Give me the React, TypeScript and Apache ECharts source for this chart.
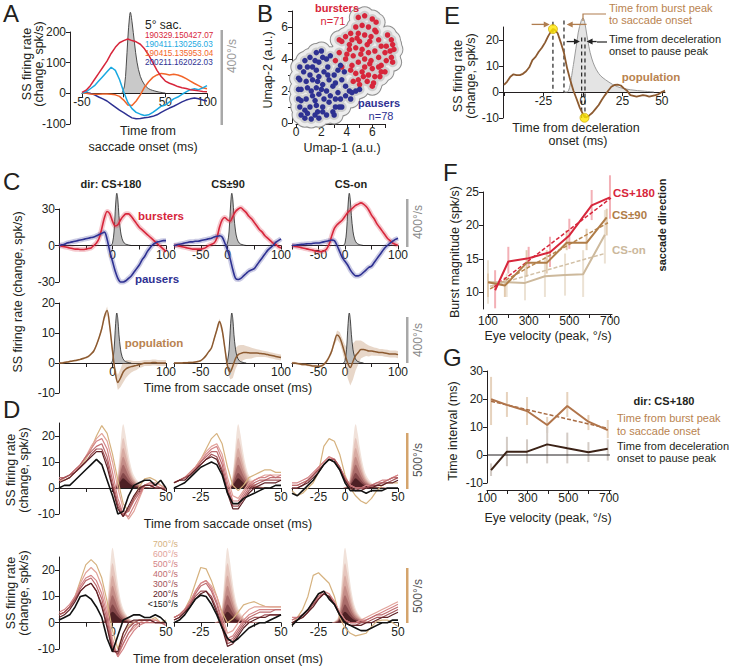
import React, { useEffect, useRef } from "react";
import * as echarts from "echarts";

const FONT = "'Liberation Sans', Arial, Helvetica, sans-serif";
const INK = "#231f20";
const RED = "#d7263b";
const BLUE = "#2e3192";
const BROWN = "#8c5a30";
const BROWN_TXT = "#b9834f";

// ---------- Panel A ----------
const aTime = [-50,-45,-40,-35,-30,-25,-20,-15,-10,-5,0,5,10,15,20,25,30,35,40,45,50,55,60,65,70,75,80,85,90,95,100];
const aRed = [3,10,25,45,65,85,105,130,150,165,172,177,172,168,160,145,125,100,75,55,40,33,28,22,18,16,12,10,8,6,5];
const aCyan = [0,5,15,25,40,55,70,85,75,45,5,-30,-50,-62,-68,-72,-70,-62,-52,-42,-38,-28,-18,-12,-3,5,12,15,12,18,25];
const aOrange = [0,0,-2,-3,-3,-2,-2,-3,-5,-10,-22,-38,-40,-25,-5,20,38,52,60,65,63,60,62,60,55,48,40,32,25,18,15];
const aBlue = [0,2,0,-5,-12,-18,-25,-35,-45,-55,-63,-72,-80,-83,-82,-80,-78,-75,-70,-62,-55,-48,-42,-35,-28,-22,-18,-15,-18,-22,-25];
const aVelT = [-2,1,3,5,7,8,10,13,16,20,25,30,40,50];
const aVel = [0,30,110,230,320,340,300,210,130,70,35,18,6,0];
const aIds = ["190329.150427.07","190411.130256.03","190415.135953.04","200211.162022.03"];
const aColors = ["#d7263b","#1ba9e1","#f2652a","#2e3192"];

// ---------- Panel B ----------
const bBursters = [
[4.9,6.6],[5.4,6.7],[6.0,6.5],[6.3,6.3],[5.2,6.1],[5.7,6.0],[6.2,5.8],[4.7,6.0],[4.3,5.6],[3.9,5.4],
[4.9,5.6],[5.4,5.5],[5.9,5.4],[6.3,5.7],[4.4,5.2],[5.0,5.1],[5.8,5.1],[3.6,5.1],[3.4,5.2],[4.2,4.9],
[7.2,5.5],[7.5,5.2],[7.6,4.9],[7.1,4.8],[7.4,4.5],[7.0,4.4],[7.7,4.6],[7.5,4.1],[7.1,3.9],[6.7,3.6],[7.6,3.8],
[4.2,4.6],[4.7,4.7],[5.2,4.6],[3.4,4.4],[4.0,4.3],[4.5,4.2],[5.1,4.3],[5.7,4.4],[6.2,4.5],[5.4,4.0],
[5.9,3.9],[6.5,4.1],[4.9,3.8],[4.4,3.6],[5.4,3.5],[6.0,3.4],[6.5,3.5],[5.2,3.2],[5.7,3.0],[6.2,2.9],
[4.7,3.1],[4.3,3.3],[4.9,2.7],[5.6,2.6],[6.1,2.5],[6.6,2.9],[6.7,3.2],[5.3,2.9],[4.5,2.6],[3.9,4.0],
[3.1,3.9],[3.6,3.5],
[4.8,5.3],[5.6,4.9],[6.7,4.8],[6.5,5.2],[7.0,3.2],[6.0,2.3],[5.0,2.4],[5.8,3.7]
];
const bPausers = [
[1.1,4.1],[1.6,4.4],[2.0,4.5],[1.5,3.9],[0.9,3.5],[1.8,3.8],[2.1,4.1],[0.6,3.2],[1.1,3.0],[1.6,3.3],
[0.3,2.7],[0.8,2.6],[1.3,2.7],[1.8,2.9],[2.4,4.0],[2.7,4.2],[2.5,3.5],
[0.4,2.1],[0.9,2.2],[1.6,2.2],[2.1,2.4],[2.6,2.7],[3.0,3.0],[3.3,3.3],[3.5,3.6],[3.8,3.2],[2.9,2.3],
[2.4,2.0],[1.8,1.8],[1.3,1.7],[0.8,1.5],[0.4,1.4],[3.1,2.5],[3.6,2.7],[3.3,1.9],[2.7,1.7],[2.2,1.5],
[3.9,2.3],[4.2,2.0],[4.4,1.9],
[0.3,1.0],[0.7,0.8],[1.1,1.0],[1.6,1.1],[2.1,1.0],[2.6,1.3],[3.1,1.5],[3.5,1.5],[3.9,1.7],[4.3,1.5],
[4.7,2.0],[5.0,2.1],[0.4,0.5],[0.9,0.6],[1.5,0.5],[1.8,0.3],[2.4,0.5],[2.9,0.7],[3.4,1.0],[0.7,0.3],
[1.2,0.25],[1.7,0.7],[0.2,1.5],[0.2,2.1],[0.2,2.8],[0.3,3.5],[3.1,1.0],[3.6,1.0],
[1.3,3.5],[2.2,3.2],[0.7,3.9],[1.7,2.6],[2.5,3.0],[2.0,2.1],[1.5,1.4],[3.0,0.5],[2.1,0.7],[1.2,2.0]
];

// ---------- Panel C ----------
const cTime = [-100,-95,-90,-85,-80,-75,-70,-65,-60,-55,-50,-45,-40,-35,-30,-25,-20,-15,-10,-5,0,5,10,15,20,25,30,35,40,45,50,55,60,65,70,75,80,85,90,95,100];
const c180Burst = [0,-0.5,-1,-1.5,-2,-2.5,-3,-3,-3.3,-3.3,-3,-2.5,-2,0,2,6,14,23,28,26,20,16,17,21,24,26,26,24,21,18,15,13,11,9,7,5,3,1,-1,-3,-5];
const c180Pause = [0,0.5,1,2,2.5,3,3.5,4,4.5,5,5.5,6,6.5,7,8,9,10,11,5,-5,-13,-21,-27,-30,-30,-29,-27,-25,-22,-19,-16,-12,-9,-5,-2,0.5,2,3,3.5,4,4];
const c90Burst = [0,0,-0.5,-1,-1.5,-2,-2.5,-3,-3,-3,-3,-2.5,-1.5,0,1,2,6,15,21,23,21,20,24,28,30,31,29,27,24,22,19,16,13,11,8,6,4,2,1,-1,-2];
const c90Pause = [0,0.5,1,1.5,2,2.5,3,3,3.5,3.5,4,4.5,5,5.5,6,7,7.5,8,7,2,-4,-11,-20,-27,-28,-27,-25,-23,-21,-20,-19,-16,-13,-10,-7,-4,-2,0,2.5,4,5.5];
const cOnBurst = [0,-0.5,-1,-1.5,-2,-2.5,-3,-3.5,-4,-4.5,-5,-5,-4.5,-3,1,8,14,17,19,21,24,27,29,31,33,34,35,34,32,29,25,22,18,15,12,9,6,4,2,1,0];
const cOnPause = [0,0.2,0.5,0.8,1,1.2,1.5,1.5,1.8,2,2,2.5,3,3.5,4,4.5,4,0,-5,-10,-13,-16,-20,-23,-25,-25,-24,-22,-20,-18,-17,-14,-11,-8,-5,-2,0,2,3.5,5,6];
const c180Pop = [0,0,0.2,0.3,0.5,0.7,0.8,1,1.2,1.5,1.8,2.2,3,4,6,8.5,11.5,15.5,17.5,12,4,-3,-6.5,-5,-3,-2,-1.5,-1.2,-1,-0.8,-0.5,-0.3,0,0,0,0.2,0.2,0,0,0,0];
const c180PopSem = [0.3,0.3,0.3,0.3,0.3,0.3,0.3,0.3,0.3,0.3,0.3,0.4,0.4,0.5,0.5,0.6,0.8,1,1.3,1.3,1.2,1.5,2.5,3,3.5,3,2.5,2,1.7,1.5,1.2,1.1,1,1,1,1,1,1,1,1,1];
const c90Pop = [0,0,0,0,0.1,0.1,0.2,0.2,0.3,0.5,0.8,1.5,2.5,3.8,5,8,11,13.8,11,5,-1,-3,-1,1.5,2.8,3.2,3.5,3.5,3.4,3.3,3.3,3.3,3.2,3.1,3,2.8,2.6,2.4,2.2,2,1.8];
const c90PopSem = [0.3,0.3,0.3,0.3,0.3,0.3,0.3,0.3,0.3,0.3,0.3,0.3,0.4,0.4,0.5,0.6,0.7,1,1,1.2,1.5,2.5,4,3.5,3,2.8,2.5,2.2,2,1.8,1.5,1.3,1.2,1.1,1,1,1,1,1,1,1];
const cOnPop = [0,0,-0.2,-0.3,-0.5,-0.5,-0.7,-0.8,-1,-1,-1.1,-1,-0.5,0.5,2,4,7,9.3,8.5,6,3,0,-1.5,0.5,2.5,3.5,4.5,4.5,4.3,4,4,3.8,3.7,3.5,3.5,3.3,3.2,3,3,3,2.8];
const cOnPopSem = [0.4,0.4,0.4,0.4,0.4,0.4,0.4,0.4,0.4,0.4,0.4,0.5,0.5,0.6,0.7,0.9,1,1.5,1.8,2.2,3,5,6,6,5,4,3,2.5,2,1.8,1.5,1.4,1.3,1.2,1.2,1.2,1.2,1.2,1.2,1.2,1.2];
const cVelT = [-3,0,3,5,7,8,10,12,15,18,22,27,35];
const cVel = [0,20,120,280,410,435,380,250,120,55,20,8,0];
const cTitles = ["dir: CS+180","CS±90","CS-on"];

// ---------- Panel D ----------
const dTime = [-50,-45,-40,-35,-30,-25,-20,-15,-10,-5,0,5,10,15,20,25,30,35,40,45,50];
const dBins = ["700°/s","600°/s","500°/s","400°/s","300°/s","200°/s","<150°/s"];
const dSac180 = [
[3,3,4,6,8,11,15,20,24,21,13,3,-6,-9,-4,0.5,3.5,4,3,1,0],
[3,3,4,6,9,12,16,19,21,18,10,0,-8,-12,-9,-4,1,2,2,1,0],
[3,4,5,7,9,12,15,18,19,15,6,-4,-10,-11,-7,-3,1,2,1,0,0],
[4,4,5,7,9,12,14,16,17,12,3,-6,-10,-9,-5,-2,1,1,1,0,0],
[3,4,5,6,8,10,13,15,15,10,1,-7,-11,-8,-4,-1,1,1,0,0,-1],
[2,3,4,6,8,10,12,14,14,8,0,-8,-11,-7,-3,0,1,1,0,0,-1],
[0,1,1,3,5,7,9,11,9,3,-3,-10,-9,-3,1,2,3,3,1,3,0]
];
const dSac90 = [
[2,3,4,6,8,11,15,19,21,17,8,1,-1,1,4,5,6,7,7,6,6],
[2,3,4,6,8,11,14,16,17,13,4,-3,-4,-1,2,3,4,5,5,5,5],
[2,3,4,6,8,10,13,15,16,11,2,-5,-5,-2,1,3,4,4,5,4,5],
[2,3,4,5,7,10,12,14,14,9,0,-6,-6,-3,0,2,3,3,4,4,4],
[2,3,4,5,7,9,11,13,12,7,-1,-7,-7,-4,-1,1,2,3,3,3,3],
[2,3,3,5,7,9,11,12,11,6,-2,-8,-8,-5,-2,0,1,2,2,2,3],
[0,1,2,4,6,8,9,10,9,5,-2,-6,-6,-4,-3,-2,-1,0,0,1,1]
];
const dSacOn = [
[-1,-3,-2,0,2,6,16,19,18,13,5,0,-3,-5,-6,-4,-1,1,2,2,2],
[1,1,2,3,5,8,10,12,11,8,4,1,0,0,0,1,1,2,3,4,5],
[2,2,3,4,6,8,10,12,11,8,4,1,0,0,1,1,2,3,3,4,5],
[1,1,2,3,5,7,9,11,11,8,4,1,0,0,0,1,2,2,3,4,4],
[0,0,1,3,5,7,9,11,11,8,3,0,-1,0,0,1,1,2,2,3,4],
[0,0,1,2,4,6,9,11,10,7,3,0,-1,-1,0,0,1,1,2,2,3],
[-2,-3,-1,1,3,6,9,11,10,7,2,-1,-1,-1,-2,-1,-1,-1,0,0,0]
];
const dDec180 = [
[3,4,6,10,16,22,24,22,17,8,-3,-10,-4,-1,0,1,1,1,2,0,1],
[3,4,6,10,15,19,21,19,14,5,-6,-13,-8,-4,-2,0,1,1,1,0,0],
[4,5,7,10,14,17,18,16,11,3,-8,-13,-10,-6,-3,-1,0,1,1,0,0],
[3,4,6,9,13,16,17,14,9,1,-9,-12,-8,-4,-1,0,0,0,0,0,-1],
[3,4,6,9,12,14,15,12,7,-1,-10,-12,-6,-2,0,1,1,1,0,0,0],
[2,3,5,8,12,14,15,12,6,-2,-11,-11,-4,0,1,1,1,1,0,0,0],
[1,2,3,6,10,10.5,9,6,2,-6,-11,-5,1,2,3,3,2,2,3,2,0]
];
const dDec90 = [
[2,3,5,9,15,21,20.5,16,10,4,0,1.5,4,6.8,7.5,8,7,6.2,6,6,6],
[2,3,5,8,12,15,16,14,10,3,-4,-3,0,3,5,6,6,6,6,6,6],
[2,3,5,8,12,15,16,13,8,1,-6,-5,-2,1,3,4,5,5,5,5,5],
[2,3,5,7,11,14,15,12,7,0,-7,-6,-3,0,2,3,4,4,4,5,5],
[1,2,4,7,10,12,12,10,5,-1,-8,-7,-4,-1,1,2,2,3,3,3,3],
[1,2,4,6,9,11,12,9,4,-2,-9,-8,-5,-2,0,1,2,2,3,3,3],
[0,1,3,6,9,10.5,10,7,3,-2,-6,-7.5,-6,-4,-2,-1,0,0,1,2,3]
];
const dDecOn = [
[-1,2,5,10,18,19,17,15,10,2,-2,-4,-5,-4.5,-4,-1.5,0.5,1,1,0,-1.4],
[1,2,3,5,8,11,12,11,8,4,1,0,0,1,2,3,4,5,6,7,8],
[2,2,3,5,8,10,12,11,8,4,1,0,0,1,1,2,3,4,5,6,7],
[1,2,3,5,7,10,11,10,7,3,1,0,0,0,1,2,3,3,4,5,6],
[0,1,2,4,7,9,11,10,7,3,0,-1,-1,0,0,1,2,2,3,4,5],
[0,1,2,4,6,9,11,10,7,3,0,-1,-1,-1,0,0,1,2,2,3,4],
[-1,1,3,5,8,11,12,9,7,3,0,-1,-2,-3,-3,-2,-1,0,0,1,1]
];
const dVelTSac = [-2,3,5,7,9,10,12,14,17,20,25,30,40];
const dVelSac = [
[0,30,140,330,520,550,470,350,200,110,45,15,0],
[0,25,110,260,405,430,370,275,155,85,35,12,0],
[0,20,90,210,325,345,295,220,125,70,28,10,0],
[0,15,70,160,255,270,230,170,100,55,22,8,0],
[0,10,50,120,190,200,170,125,72,40,16,6,0],
[0,7,33,78,123,130,110,82,47,26,10,4,0],
[0,5,22,51,80,85,72,54,31,17,7,2,0]
];
const dVelTDec = [-12,-7,-5,-3,-1,0,2,4,7,10,15,20,30];
const dVelDec = [
[0,40,170,400,640,680,580,430,240,130,50,15,0],
[0,32,135,320,510,540,460,340,190,105,40,12,0],
[0,25,108,255,405,430,365,270,150,83,32,10,0],
[0,20,85,198,315,335,285,210,118,65,25,8,0],
[0,15,63,148,235,250,212,157,88,48,18,6,0],
[0,10,42,98,155,165,140,104,58,32,12,4,0],
[0,6,25,60,94,100,85,63,35,19,7,2,0]
];
const dLineColors = ["#d6b27f","#e2a39a","#d48487","#bf6c70","#a35358","#5e2126","#111111"];
const dFillColors = ["#f1e2da","#e6c6bd","#d8aba2","#c48d87","#a96b69","#85484a","#4e2024"];

// ---------- Panel E ----------
const eTime = [-50,-48,-46,-44,-42,-40,-38,-36,-34,-32,-30,-28,-26,-24,-22,-20,-19,-18,-16,-14,-12,-10,-8,-6,-4,-2,0,1,2,4,6,8,10,12,14,16,18,20,22,24,26,28,30,32,34,36,38,40,42,44,46,48,50,52];
const eRate = [2.7,4,5.9,6.8,6.5,6.5,7,8,9.5,12.3,13.5,15.5,17,19,21.5,23.5,24.2,24,22.6,19,15,9.1,4.5,0.5,-2.7,-6,-8.5,-9.6,-9.8,-9,-8,-6.5,-5,-3,-1.2,0.5,2,2.7,2.8,2.5,1.4,0.5,-1.2,-1.5,-1.8,-1.5,-1.2,-1.4,-1.8,-1.5,-1.2,-0.8,0,0.5];
const eVelT = [-12,-10,-6,-3,-1,0,1,2.5,5.5,10,16,22,30,39,45];
const eVel = [0,0,37,80,97,100,96,77,46,25,14,7,3,1,0];
const eDashT = [-19,-12,-0.8,1.3];
const eDashTop = [27,27.5,21,21];
const eDashBottom = [0,0,-10,-10];
const ePeaks = [[-19,24.2],[1,-9.9]];
const eBrownArrows = [[-32.5,-21,26],[2.3,-10.3,26]];
const eBlackArrows = [[-10.3,-1.9,19.4],[8.7,2.3,19.4]];

// ---------- Panel F ----------
const fX180 = [135,200,300,405,500,610,700];
const fY180 = [10.3,14.6,15.1,16.0,18.5,23.0,24.2];
const fLo180 = [7.6,12.8,13.8,13.8,16.5,20.8,21.0];
const fHi180 = [13.3,16.8,16.8,18.3,21.0,25.3,27.5];
const fX90 = [100,183,290,389,487,585,684];
const fY90 = [11.5,11.0,14.4,14.4,17.4,17.4,21.2];
const fLo90 = [9.3,9.3,12.3,12.8,16.3,16.3,18.5];
const fHi90 = [12.8,12.3,16.3,16.3,19.3,19.5,22.5];
const fXOn = [100,192,282,380,479,568,675];
const fYOn = [11.5,11.5,11.4,12.4,12.6,12.7,18.6];
const fLoOn = [8.3,9.3,8.8,9.3,9.5,9.3,14.3];
const fHiOn = [14.8,12.8,13.8,15.3,15.8,16.3,22.3];
const fFit180 = [[130,10.8],[705,24.1]];
const fFit90 = [[110,10.5],[690,20.4]];
const fFitOn = [[110,10.9],[675,15.8]];

// ---------- Panel G ----------
const gX = [120,198,297,396,495,599,694];
const gBurst = [19.9,17.9,15.7,10.7,17.5,11.9,8.9];
const gBurstLo = [10.7,13.6,10.7,7.9,13.6,8.9,6.0];
const gBurstHi = [27.9,22.5,20.7,13.6,22.5,14.3,12.5];
const gPause = [-5.4,1.2,1.2,3.8,2.4,1.0,2.2];
const gPauseLo = [-7.5,-4,-3,-3,-3,-2.5,-2];
const gPauseHi = [-3,6.5,5.6,10,8,4.6,5.6];
const gFit = [[120,19.2],[694,9.5]];

const zip = (xs: number[], ys: number[]) => xs.map((x, i) => [x, ys[i]]);

function buildOption() {
  const grid: any[] = [];
  const xAxis: any[] = [];
  const yAxis: any[] = [];
  const series: any[] = [];
  const graphic: any[] = [];

  const lineSt = { color: INK, width: 1 };
  const lbl = { color: INK, fontSize: 12, fontFamily: FONT };

  function panel(rect: any, xc: any, yc: any, vel?: number[]) {
    const gi = grid.length;
    grid.push({ ...rect });
    const yi = yAxis.length;
    yAxis.push({
      type: "value", gridIndex: gi, min: yc.min, max: yc.max, position: "left",
      offset: yc.offset || 0, show: yc.show !== false,
      axisLine: { show: true, onZero: false, lineStyle: lineSt },
      axisTick: { show: true, length: 4, customValues: yc.ticks, lineStyle: { color: INK } },
      axisLabel: { show: true, customValues: yc.labels, margin: 4, ...lbl },
      splitLine: { show: false },
    });
    // x axis drawn through y = 0 (shifted up from the grid's bottom edge)
    const xOffset = xc.atZero ? -rect.height * (0 - yc.min) / (yc.max - yc.min) : (xc.offset || 0);
    const xi = xAxis.length;
    xAxis.push({
      type: "value", gridIndex: gi, min: xc.min, max: xc.max, position: "bottom",
      offset: xOffset, show: xc.show !== false,
      axisLine: { show: true, onZero: false, lineStyle: lineSt },
      axisTick: { show: true, length: 4, customValues: xc.ticks, lineStyle: { color: INK } },
      axisLabel: { show: true, customValues: xc.labels, margin: xc.margin ?? 3, ...lbl },
      splitLine: { show: false },
    });
    let vi = -1;
    if (vel) {
      vi = yAxis.length;
      yAxis.push({ type: "value", gridIndex: gi, min: vel[0], max: vel[1], show: false, splitLine: { show: false } });
    }
    return { xi, yi, vi };
  }

  const line = (p: any, data: any[], color: string, width = 1.2, extra: any = {}) => ({
    type: "line", xAxisIndex: p.xi, yAxisIndex: p.yi, data, symbol: "none", showSymbol: false,
    clip: false, silent: true, lineStyle: { color, width }, ...extra,
  });
  const velFill = (p: any, data: any[], fill: string, stroke: string, width: number) => ({
    type: "line", xAxisIndex: p.xi, yAxisIndex: p.vi, data, symbol: "none", showSymbol: false,
    clip: false, silent: true, smooth: 0.35, lineStyle: { color: stroke, width },
    areaStyle: { color: fill, opacity: 1 },
  });
  const band = (p: any, xs: number[], mean: number[], sem: number[], color: string) => ({
    type: "custom", xAxisIndex: p.xi, yAxisIndex: p.yi, silent: true, clip: false,
    data: [[xs[0], mean[0]]],
    renderItem: (_params: any, api: any) => {
      const pts: any[] = [];
      for (let i = 0; i < xs.length; i++) pts.push(api.coord([xs[i], mean[i] + sem[i]]));
      for (let i = xs.length - 1; i >= 0; i--) pts.push(api.coord([xs[i], mean[i] - sem[i]]));
      return { type: "polygon", shape: { points: pts }, style: { fill: color } };
    },
  });
  const errBars = (p: any, xs: number[], lo: number[], hi: number[], color: string, w = 2) => ({
    type: "custom", xAxisIndex: p.xi, yAxisIndex: p.yi, silent: true, clip: false,
    data: xs.map((x, i) => [x, lo[i], hi[i]]),
    encode: { x: 0, y: [1, 2] },
    renderItem: (_params: any, api: any) => {
      const a = api.coord([api.value(0), api.value(1)]);
      const b = api.coord([api.value(0), api.value(2)]);
      return { type: "line", shape: { x1: a[0], y1: a[1], x2: b[0], y2: b[1] }, style: { stroke: color, lineWidth: w } };
    },
  });
  const arrows = (p: any, rows: number[][], color: string) => ({
    type: "custom", xAxisIndex: p.xi, yAxisIndex: p.yi, silent: true, clip: false, z: 5,
    data: rows, encode: { x: [0, 1], y: 2 },
    renderItem: (_params: any, api: any) => {
      const a = api.coord([api.value(0), api.value(2)]);
      const b = api.coord([api.value(1), api.value(2)]);
      const d = Math.sign(b[0] - a[0]) || 1;
      return {
        type: "group",
        children: [
          { type: "line", shape: { x1: a[0], y1: a[1], x2: b[0] - d * 4, y2: b[1] }, style: { stroke: color, lineWidth: 1.3 } },
          { type: "polygon", shape: { points: [[b[0], b[1]], [b[0] - d * 6, b[1] - 3], [b[0] - d * 6, b[1] + 3]] }, style: { fill: color } },
        ],
      };
    },
  });
  const txt = (text: string, x: number, y: number, o: any = {}) => ({
    type: "text", x, y, rotation: o.rot ? Math.PI / 2 : 0, silent: true, z: 100,
    style: {
      text, fill: o.color || INK,
      font: `${o.bold ? "bold " : ""}${o.size || 12}px ${FONT}`,
      align: o.align || "center", verticalAlign: o.va || "middle",
    },
  });
  const rect = (x: number, y: number, w: number, h: number, fill: string) => ({
    type: "rect", shape: { x, y, width: w, height: h }, style: { fill }, silent: true, z: 100,
  });

  // ---- A ----
  const pA = panel({ left: 82, top: 32, width: 125, height: 92 },
    { min: -50, max: 100, ticks: [-50, 0, 50, 100], labels: [-50, 50, 100], atZero: true },
    { min: -100, max: 200, ticks: [-100, 0, 100, 200], labels: [-100, 0, 100, 200], offset: 12 },
    [-130.5, 257]);
  series.push(velFill(pA, zip(aVelT, aVel), "#c9c9c9", "#3a3a3a", 0.9));
  series.push(line(pA, zip(aTime, aBlue), aColors[3], 1.5));
  series.push(line(pA, zip(aTime, aOrange), aColors[2], 1.5));
  series.push(line(pA, zip(aTime, aCyan), aColors[1], 1.5));
  series.push(line(pA, zip(aTime, aRed), aColors[0], 1.5));

  // ---- B ----
  const pB = panel({ left: 296, top: 11, width: 89, height: 112 },
    { min: 0, max: 7, ticks: [0, 1, 2, 3, 4, 5, 6, 7], labels: [0, 2, 4, 6], offset: 1, margin: 2 },
    { min: 0, max: 7, ticks: [0, 1, 2, 3, 4, 5, 6, 7], labels: [0, 2, 4, 6], offset: 4 });
  const allB = [...bBursters, ...bPausers];
  const sc = (data: any[], size: number, color: string, z: number) => ({
    type: "scatter", xAxisIndex: pB.xi, yAxisIndex: pB.yi, data, symbolSize: size, clip: false, silent: true, z,
    itemStyle: { color, opacity: 1 },
  });
  series.push(sc(allB, 19, "#8f8f8f", 1));
  series.push(sc(allB, 17, "#eeeeee", 1));
  series.push(sc(allB, 10, "#cfcfcf", 1));
  series.push(sc(bBursters, 5.5, RED, 3));
  series.push(sc(bPausers, 5.5, BLUE, 3));

  // ---- C ----
  const cx = [59, 174, 292];
  const cw = [107, 107, 106];
  const cBurst = [c180Burst, c90Burst, cOnBurst];
  const cPause = [c180Pause, c90Pause, cOnPause];
  const cPop = [c180Pop, c90Pop, cOnPop];
  const cSem = [c180PopSem, c90PopSem, cOnPopSem];
  for (let i = 0; i < 3; i++) {
    const pt = panel({ left: cx[i], top: 209, width: cw[i], height: 73 },
      { min: -100, max: 100, ticks: [-100, -50, 0, 50, 100], labels: i === 0 ? [0, 100] : [-50, 0, 100], atZero: true },
      { min: -30, max: 30, ticks: [-30, 0, 30], labels: [-30, 0, 30], show: i === 0 },
      [-304, 304]);
    series.push(velFill(pt, zip(cVelT, cVel), "#bdbdbd", "#222", 0.8));
    series.push(line(pt, zip(cTime, cBurst[i]), "rgba(215,38,59,0.25)", 5, { smooth: 0.3 }));
    series.push(line(pt, zip(cTime, cPause[i]), "rgba(46,49,146,0.25)", 5, { smooth: 0.3 }));
    series.push(line(pt, zip(cTime, cBurst[i]), RED, 1.6, { smooth: 0.3 }));
    series.push(line(pt, zip(cTime, cPause[i]), BLUE, 1.6, { smooth: 0.3 }));

    const pb = panel({ left: cx[i], top: 303, width: cw[i], height: 90 },
      { min: -100, max: 100, ticks: [-100, -50, 0, 50, 100], labels: i === 0 ? [0, 100] : [-50, 0, 100], atZero: true },
      { min: -10, max: 20, ticks: [-10, 0, 10, 20], labels: [-10, 0, 10, 20], show: i === 0 },
      [-261, 522]);
    series.push(velFill(pb, zip(cVelT, cVel), "#bdbdbd", "#222", 0.8));
    series.push(band(pb, cTime, cPop[i], cSem[i], "rgba(190,140,100,0.35)"));
    series.push(line(pb, zip(cTime, cPop[i]), BROWN, 1.5, { smooth: 0.3 }));
  }

  // ---- D ----
  const dTop = [dSac180, dSac90, dSacOn];
  const dBot = [dDec180, dDec90, dDecOn];
  const dTopLabels = [[50], [-25, 50], [-25, 0, 50]];
  const dBotLabels = [[0, 50], [-25, 50], [-25, 0, 50]];
  for (let i = 0; i < 3; i++) {
    const pt = panel({ left: cx[i], top: 423, width: cw[i], height: 91 },
      { min: -50, max: 50, ticks: [-50, -25, 0, 25, 50], labels: dTopLabels[i], atZero: true },
      { min: -10, max: 25, ticks: [-10, 0, 10, 20], labels: [-10, 0, 10, 20], show: i === 0 },
      [-224, 560]);
    for (let k = 0; k < 7; k++) series.push(velFill(pt, zip(dVelTSac, dVelSac[k]), dFillColors[k], dFillColors[k], 0));
    for (let k = 0; k < 7; k++) series.push(line(pt, zip(dTime, dTop[i][k]), dLineColors[k], k === 6 ? 1.6 : 1.2));

    const pb = panel({ left: cx[i], top: 557, width: cw[i], height: 92 },
      { min: -50, max: 50, ticks: [-50, -25, 0, 25, 50], labels: dBotLabels[i], atZero: true },
      { min: -10, max: 25, ticks: [-10, 0, 10, 20], labels: [-10, 0, 10, 20], show: i === 0 },
      [-239, 597]);
    for (let k = 0; k < 7; k++) series.push(velFill(pb, zip(dVelTDec, dVelDec[k]), dFillColors[k], dFillColors[k], 0));
    for (let k = 0; k < 7; k++) series.push(line(pb, zip(dTime, dBot[i][k]), dLineColors[k], k === 6 ? 1.6 : 1.2));
  }

  // ---- E ----
  const pE = panel({ left: 504, top: 27, width: 161, height: 91 },
    { min: -50, max: 52, ticks: [-50, -25, 0, 25, 50], labels: [-25, 0, 25, 50], atZero: true },
    { min: -10, max: 25, ticks: [-10, 0, 10, 20], labels: [-10, 0, 10, 20], offset: 1 },
    [-35.3, 88]);
  series.push(velFill(pE, zip(eVelT, eVel), "#e4e4e4", "#9a9a9a", 1));
  for (let k = 0; k < eDashT.length; k++) {
    series.push(line(pE, [[eDashT[k], eDashTop[k]], [eDashT[k], eDashBottom[k]]], "#222", 1.2, { lineStyle: { color: "#222", width: 1.2, type: [4, 3] } }));
  }
  series.push(line(pE, zip(eTime, eRate), BROWN, 1.8));
  series.push({
    type: "scatter", xAxisIndex: pE.xi, yAxisIndex: pE.yi, data: ePeaks, symbolSize: 9, silent: true, clip: false, z: 6,
    itemStyle: { color: "#ffe600", borderColor: "#c4a000", borderWidth: 0.8 },
  });
  series.push(arrows(pE, eBrownArrows, "#b07d4f"));
  series.push(arrows(pE, eBlackArrows, "#222"));

  // ---- F ----
  const pF = panel({ left: 488, top: 192, width: 124, height: 117 },
    { min: 100, max: 710, ticks: [100, 200, 300, 400, 500, 600, 700], labels: [100, 300, 500, 700], offset: 5, margin: 1 },
    { min: 7.5, max: 25, ticks: [10, 15, 20, 25], labels: [10, 15, 20, 25], offset: 5 });
  series.push(errBars(pF, fXOn, fLoOn, fHiOn, "#ece2d4"));
  series.push(errBars(pF, fX90, fLo90, fHi90, "#e2cbb0"));
  series.push(errBars(pF, fX180, fLo180, fHi180, "#f3b0b6"));
  series.push(line(pF, fFitOn, "#d2c0a6", 1.5, { lineStyle: { color: "#d2c0a6", width: 1.5, type: [4, 2] } }));
  series.push(line(pF, fFit90, "#b9874f", 1.5, { lineStyle: { color: "#b9874f", width: 1.5, type: [4, 2] } }));
  series.push(line(pF, fFit180, RED, 1.5, { lineStyle: { color: RED, width: 1.5, type: [4, 2] } }));
  series.push(line(pF, zip(fXOn, fYOn), "#cdb99c", 2));
  series.push(line(pF, zip(fX90, fY90), "#b07d48", 2));
  series.push(line(pF, zip(fX180, fY180), RED, 2));

  // ---- G ----
  const pG = panel({ left: 487, top: 371, width: 124, height: 112 },
    { min: 100, max: 710, ticks: [100, 200, 300, 400, 500, 600, 700], labels: [100, 300, 500, 700], offset: 7, margin: 2 },
    { min: -10, max: 30, ticks: [-10, 0, 10, 20, 30], labels: [-10, 0, 10, 20, 30] });
  series.push(line(pG, [[100, 0], [705, 0]], INK, 1));
  series.push(errBars(pG, gX, gBurstLo, gBurstHi, "#e6d2bd"));
  series.push(errBars(pG, gX, gPauseLo, gPauseHi, "#d3cbc5"));
  series.push(line(pG, gFit, "#a86b42", 1.5, { lineStyle: { color: "#a86b42", width: 1.5, type: [4, 2] } }));
  series.push(line(pG, zip(gX, gBurst), "#b0744a", 2));
  series.push(line(pG, zip(gX, gPause), "#3b2216", 2));

  // ---- texts ----
  const L = { size: 24, align: "left", va: "top" };
  graphic.push(txt("A", 3, 1, L), txt("B", 257, 1, L), txt("C", 3, 169, L), txt("D", 3, 397, L),
    txt("E", 444, 3, L), txt("F", 443, 160, L), txt("G", 443, 345, L));

  // A
  graphic.push(txt("5° sac.", 145, 25, { align: "left", size: 12 }));
  aIds.forEach((id, i) => graphic.push(txt(id, 145, 35 + i * 9.3, { align: "left", size: 8.2, color: aColors[i] })));
  graphic.push(txt("SS firing rate", 27, 64, { rot: 1, size: 12.5 }), txt("(change, spk/s)", 39, 64, { rot: 1, size: 12.5 }));
  graphic.push(txt("Time from", 148, 131, { size: 12.5 }), txt("saccade onset (ms)", 143, 147, { size: 12.5 }));
  graphic.push(rect(220.5, 30, 2.5, 95, "#a8a8a8"), txt("400°/s", 232, 56, { rot: 1, color: "#9a9a9a" }));

  // B
  graphic.push(txt("bursters", 337, 8, { bold: 1, color: RED, size: 11 }), txt("n=71", 333, 21, { color: RED, size: 11 }));
  graphic.push(txt("pausers", 379, 103, { bold: 1, color: BLUE, size: 11 }), txt("n=78", 381, 116, { color: BLUE, size: 11 }));
  graphic.push(txt("Umap-2 (a.u.)", 268, 70, { rot: 1, size: 12.5 }), txt("Umap-1 (a.u.)", 342, 148, { size: 12.5 }));

  // C
  graphic.push(txt(cTitles[0], 111, 184, { bold: 1, size: 11 }), txt(cTitles[1], 228, 184, { bold: 1, size: 11 }), txt(cTitles[2], 351, 184, { bold: 1, size: 11 }));
  graphic.push(txt("bursters", 161, 216, { bold: 1, color: RED, size: 11.5 }), txt("pausers", 157, 279, { bold: 1, color: BLUE, size: 11.5 }));
  graphic.push(txt("population", 154, 343, { bold: 1, color: BROWN_TXT, size: 11.5 }));
  graphic.push(txt("SS firing rate (change, spk/s)", 18, 292, { rot: 1, size: 12.5 }));
  graphic.push(txt("Time from saccade onset (ms)", 228, 388, { size: 12.5 }));
  graphic.push(rect(406, 199, 2.5, 48, "#a8a8a8"), txt("400°/s", 418, 222, { rot: 1, color: "#8a8a8a" }));
  graphic.push(rect(406, 317, 2.5, 46, "#a8a8a8"), txt("400°/s", 418, 340, { rot: 1, color: "#8a8a8a" }));

  // D
  graphic.push(txt("SS firing rate", 11, 470, { rot: 1, size: 12.5 }), txt("(change, spk/s)", 24, 470, { rot: 1, size: 12.5 }));
  graphic.push(txt("SS firing rate", 11, 593, { rot: 1, size: 12.5 }), txt("(change, spk/s)", 24, 593, { rot: 1, size: 12.5 }));
  graphic.push(txt("Time from saccade onset (ms)", 228, 524, { size: 12.5 }));
  graphic.push(txt("Time from deceleration onset (ms)", 228, 659, { size: 12.5 }));
  const legY = [544, 554, 564, 574, 584, 594, 604];
  dBins.forEach((b, k) => graphic.push(txt(b, 178, legY[k], { align: "right", size: 8.8, color: dLineColors[k] })));
  graphic.push(rect(406, 433, 2.5, 56, "#d4a46c"), txt("500°/s", 418, 460, { rot: 1, color: "#555" }));
  graphic.push(rect(406, 568, 2.5, 55, "#d4a46c"), txt("500°/s", 418, 596, { rot: 1, color: "#555" }));

  // E
  graphic.push(txt("Time from burst peak", 609, 8, { align: "left", size: 11, color: BROWN_TXT }));
  graphic.push(txt("to saccade onset", 609, 20, { align: "left", size: 11, color: BROWN_TXT }));
  graphic.push(txt("Time from deceleration", 609, 39, { align: "left", size: 11 }));
  graphic.push(txt("onset to pause peak", 609, 51, { align: "left", size: 11 }));
  graphic.push({ type: "polyline", shape: { points: [[606, 14], [583, 14], [583, 21]] }, style: { stroke: "#b07d4f", lineWidth: 1.2, fill: null }, silent: true, z: 100 });
  graphic.push({ type: "line", shape: { x1: 597, y1: 42, x2: 607, y2: 42 }, style: { stroke: "#222", lineWidth: 1.2 }, silent: true, z: 100 });
  graphic.push(txt("population", 651, 77, { bold: 1, color: BROWN_TXT, size: 11.5 }));
  graphic.push(txt("Time from deceleration", 576, 128, { size: 12.5 }), txt("onset (ms)", 578, 141, { size: 12.5 }));
  graphic.push(txt("SS firing rate", 458, 76, { rot: 1, size: 12.5 }), txt("(change, spk/s)", 471, 76, { rot: 1, size: 12.5 }));

  // F
  graphic.push(txt("CS+180", 613, 193, { align: "left", bold: 1, size: 11.5, color: RED }));
  graphic.push(txt("CS±90", 612, 215, { align: "left", bold: 1, size: 11.5, color: "#b07d48" }));
  graphic.push(txt("CS-on", 612, 250, { align: "left", bold: 1, size: 11.5, color: "#cbb89c" }));
  graphic.push(txt("saccade direction", 662, 225, { rot: 1, bold: 1, size: 11 }));
  graphic.push(txt("Burst magnitude (spk/s)", 455, 252, { rot: 1, size: 12.5 }));
  graphic.push(txt("Eye velocity (peak, °/s)", 548, 336, { size: 12.5 }));

  // G
  graphic.push(txt("dir: CS+180", 664, 401, { bold: 1, size: 11 }));
  graphic.push(txt("Time from burst peak", 617, 418, { align: "left", size: 11, color: BROWN_TXT }));
  graphic.push(txt("to saccade onset", 617, 431, { align: "left", size: 11, color: BROWN_TXT }));
  graphic.push(txt("Time from deceleration", 617, 446, { align: "left", size: 11 }));
  graphic.push(txt("onset to pause peak", 617, 458, { align: "left", size: 11 }));
  graphic.push(txt("Time interval (ms)", 453, 431, { rot: 1, size: 12.5 }));
  graphic.push(txt("Eye velocity (peak, °/s)", 548, 518, { size: 12.5 }));

  return {
    animation: false,
    backgroundColor: "#ffffff",
    textStyle: { fontFamily: FONT },
    grid, xAxis, yAxis, series, graphic,
  };
}

export default function App() {
  const ref = useRef<HTMLDivElement>(null);
  useEffect(() => {
    document.body.style.margin = "0";
    const chart = echarts.init(ref.current as HTMLDivElement, undefined, { renderer: "svg" });
    chart.setOption(buildOption() as any);
    return () => chart.dispose();
  }, []);
  return <div ref={ref} style={{ width: 729, height: 670 }} />;
}
